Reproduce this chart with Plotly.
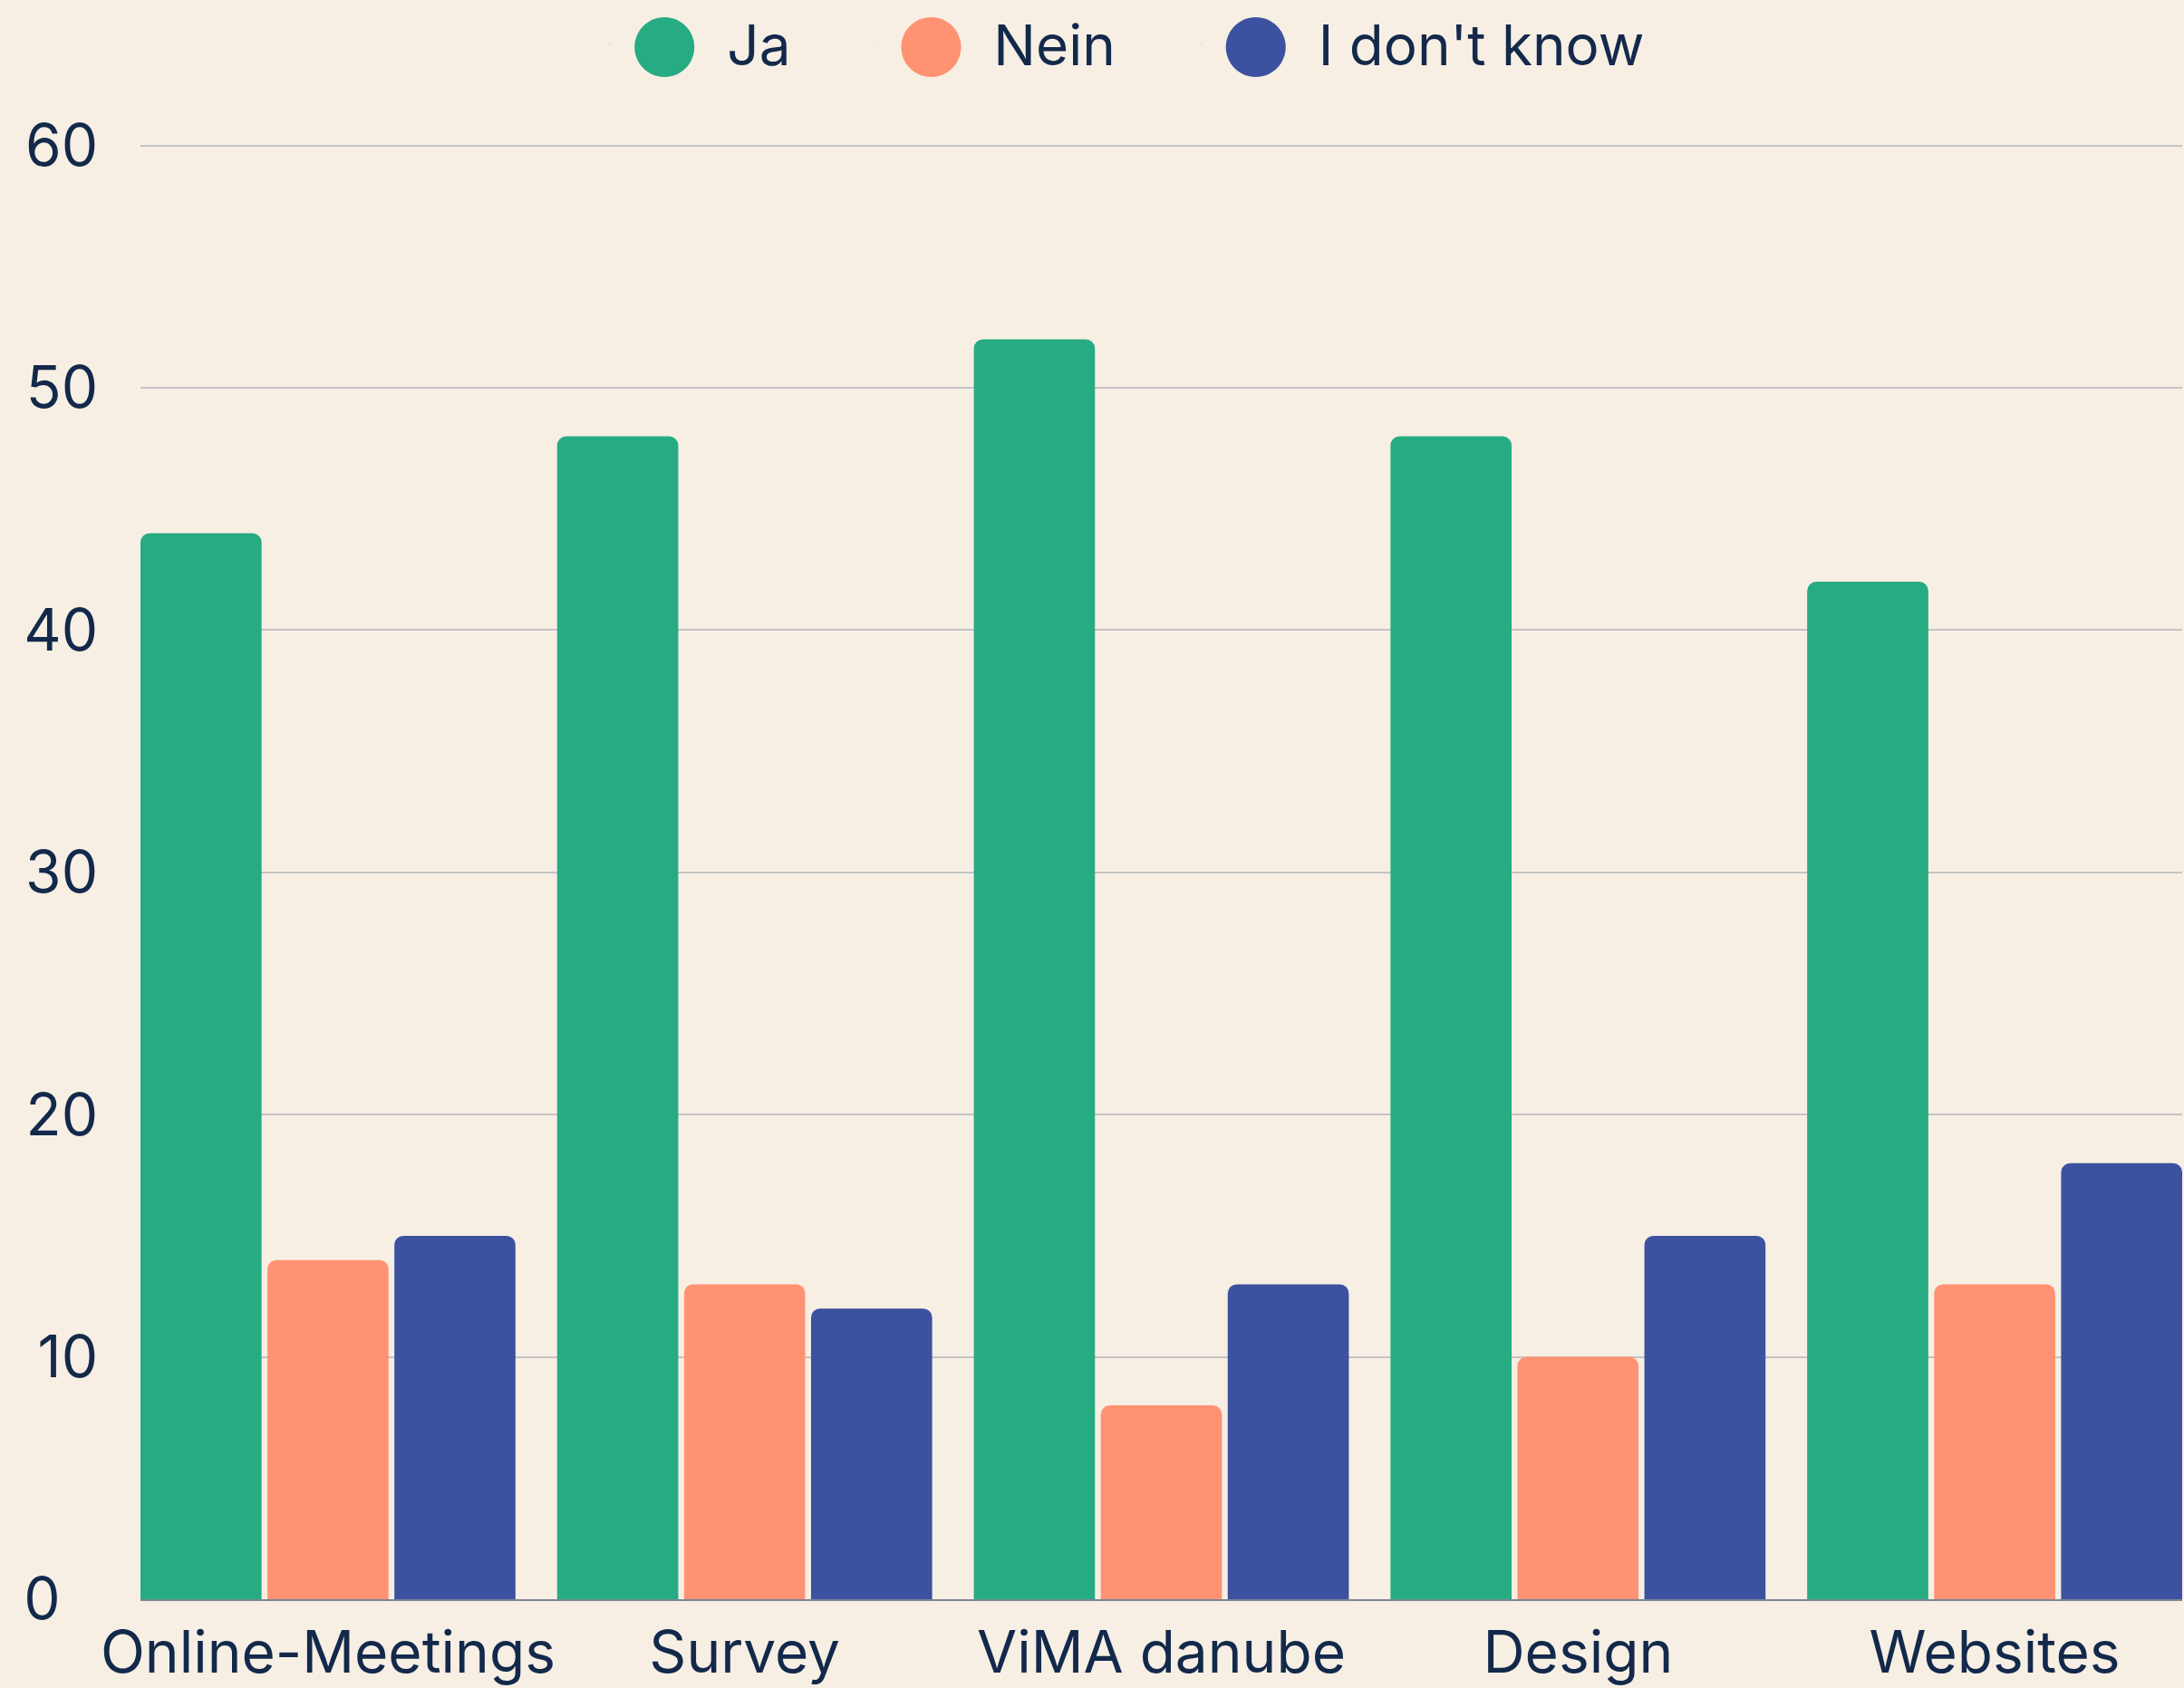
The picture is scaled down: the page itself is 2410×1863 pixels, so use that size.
import plotly.graph_objects as go

categories = ["Online-Meetings", "Survey", "ViMA danube", "Design", "Websites"]
series_names = ["Ja", "Nein", "I don't know"]
ja_values = [44, 48, 52, 48, 42]
nein_values = [14, 13, 8, 10, 13]
dunno_values = [15, 12, 13, 15, 18]
y_tick_vals = [0, 10, 20, 30, 40, 50, 60]
y_tick_text = ["0\u2007", "10", "20", "30", "40", "50", "60"]

colors = ["#27AB83", "#FF9272", "#3C52A0"]
text_color = "#13294B"
bg = "#F7EFE4"
font_family = "Inter, 'Noto Sans', sans-serif"

fig = go.Figure()
for name, vals, col in zip(series_names, [ja_values, nein_values, dunno_values], colors):
    fig.add_trace(go.Bar(x=categories, y=vals, name=name, marker=dict(color=col, cornerradius=10, line=dict(width=0)),
                         showlegend=False))
# legend entries with big circles
pad = "\u00a0" * 4
for name, col in zip(series_names, colors):
    fig.add_trace(go.Scatter(x=[None], y=[None], mode="markers", marker=dict(opacity=0, size=1),
                             name=f"<span style='color:{col};font-size:88px;baseline-shift:-12px'>●</span>\u00a0\u2009{name}{pad}",
                             showlegend=True))

fig.update_layout(
    width=2410, height=1863,
    paper_bgcolor=bg, plot_bgcolor=bg,
    margin=dict(l=155, r=2, t=158, b=98, autoexpand=False),
    barmode="group", bargap=0.086, bargroupgap=0.046,
    font=dict(family=font_family, color=text_color, size=62),
    legend=dict(orientation="h", xref="container", x=0.271, xanchor="left", yref="container", y=0.974,
                yanchor="middle", font=dict(size=62, color=text_color), itemwidth=30,
                bgcolor="rgba(0,0,0,0)"),
    xaxis=dict(range=[-0.45, 4.45], showgrid=False, showline=True, linecolor="#7D8595", linewidth=2,
               ticks="", tickfont=dict(size=64, color=text_color), ticklabelstandoff=2),
    yaxis=dict(range=[0, 60.1], tickvals=y_tick_vals, ticktext=y_tick_text, showgrid=True, gridcolor="#C3C3C3",
               gridwidth=2, zeroline=False, showline=False, ticks="", tickfont=dict(size=64, color=text_color),
               ticklabelstandoff=46),
)
fig.write_html("out.html", post_script="document.body.style.margin='0';",
               config={"displayModeBar": False})
